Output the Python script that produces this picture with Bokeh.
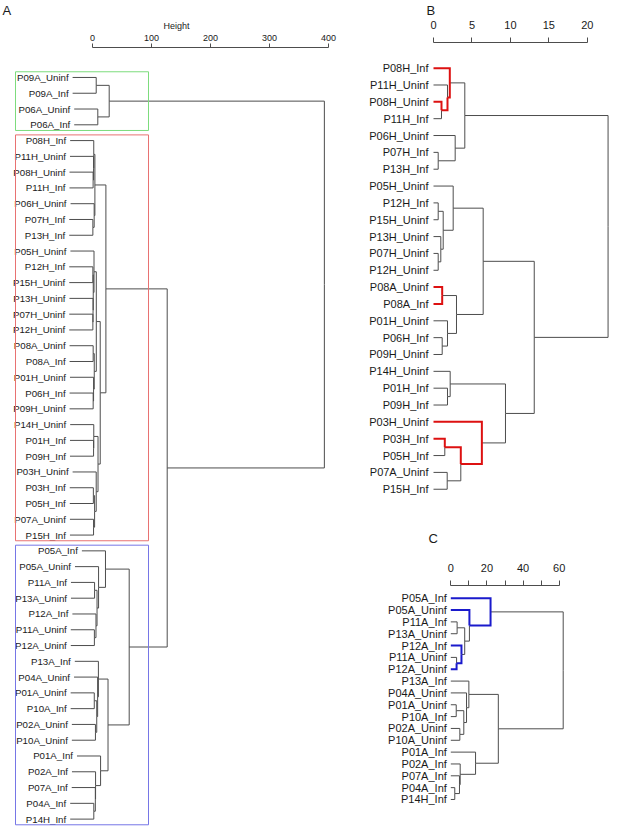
from bokeh.plotting import figure
from bokeh.models import Range1d, LinearAxis, FixedTicker, ColumnDataSource, Title
from bokeh.layouts import row, column
from bokeh.embed import file_html
from bokeh.resources import INLINE
from bokeh.core.properties import value

# ---------------- data ----------------
green_leaves = ["P09A_Uninf", "P09A_Inf", "P06A_Uninf", "P06A_Inf"]
green_merges = [
    ("g1", "P09A_Uninf", "P09A_Inf", 6.3),
    ("g2", "P06A_Uninf", "P06A_Inf", 9.0),
    ("g3", "g1", "g2", 28.3),
]

b_leaves = ["P08H_Inf", "P11H_Uninf", "P08H_Uninf", "P11H_Inf", "P06H_Uninf",
            "P07H_Inf", "P13H_Inf", "P05H_Uninf", "P12H_Inf", "P15H_Uninf",
            "P13H_Uninf", "P07H_Uninf", "P12H_Uninf", "P08A_Uninf", "P08A_Inf",
            "P01H_Uninf", "P06H_Inf", "P09H_Uninf", "P14H_Uninf", "P01H_Inf",
            "P09H_Inf", "P03H_Uninf", "P03H_Inf", "P05H_Inf", "P07A_Uninf", "P15H_Inf"]
b_merges = [
    ("b1", "P08H_Uninf", "P11H_Inf", 1.04),
    ("b2", "P11H_Uninf", "b1", 1.82),
    ("b3", "P08H_Inf", "b2", 2.12),
    ("b5", "P07H_Inf", "P13H_Inf", 0.61),
    ("b6", "P06H_Uninf", "b5", 2.82),
    ("b4", "b3", "b6", 4.07),
    ("b7", "P12H_Inf", "P15H_Uninf", 0.61),
    ("b8", "P07H_Uninf", "P12H_Uninf", 0.61),
    ("b9", "P13H_Uninf", "b8", 0.95),
    ("b10", "b7", "b9", 1.26),
    ("b11", "P05H_Uninf", "b10", 2.56),
    ("b12", "P08A_Uninf", "P08A_Inf", 1.13),
    ("b13", "P06H_Inf", "P09H_Uninf", 1.13),
    ("b14", "P01H_Uninf", "b13", 1.82),
    ("b15", "b12", "b14", 2.99),
    ("b16", "b11", "b15", 6.46),
    ("b18", "P01H_Inf", "P09H_Inf", 1.82),
    ("b19", "P14H_Uninf", "b18", 2.17),
    ("b20", "P03H_Inf", "P05H_Inf", 1.47),
    ("b21", "P07A_Uninf", "P15H_Inf", 1.78),
    ("b22", "b20", "b21", 3.55),
    ("b23", "P03H_Uninf", "b22", 6.29),
    ("b24", "b19", "b23", 9.36),
    ("b17", "b16", "b24", 13.1),
    ("b_root", "b4", "b17", 22.7),
]
b_highlight = ["P08H_Inf", "P08H_Uninf", "b1", "b2", "P08A_Uninf", "P08A_Inf",
               "P03H_Uninf", "P03H_Inf", "b20", "b22"]

c_leaves = ["P05A_Inf", "P05A_Uninf", "P11A_Inf", "P13A_Uninf", "P12A_Inf",
            "P11A_Uninf", "P12A_Uninf", "P13A_Inf", "P04A_Uninf", "P01A_Uninf",
            "P10A_Inf", "P02A_Uninf", "P10A_Uninf", "P01A_Inf", "P02A_Inf",
            "P07A_Inf", "P04A_Inf", "P14H_Inf"]
c_merges = [
    ("cW", "P11A_Uninf", "P12A_Uninf", 3.2),
    ("cZ", "P12A_Inf", "cW", 5.9),
    ("cV", "P11A_Inf", "P13A_Uninf", 3.5),
    ("cY", "cV", "cZ", 7.7),
    ("cX", "P05A_Uninf", "cY", 10.3),
    ("cT", "P05A_Inf", "cX", 22.0),
    ("cM1", "P01A_Uninf", "P10A_Inf", 3.0),
    ("cM2", "P02A_Uninf", "P10A_Uninf", 5.0),
    ("cM", "cM1", "cM2", 7.2),
    ("cQ1", "P04A_Uninf", "cM", 8.7),
    ("cQ2", "P13A_Inf", "cQ1", 10.0),
    ("cR1", "P04A_Inf", "P14H_Inf", 2.2),
    ("cR2", "P07A_Inf", "cR1", 4.8),
    ("cR3", "P02A_Inf", "cR2", 5.2),
    ("cR4", "P01A_Inf", "cR3", 13.7),
    ("cQ", "cQ2", "cR4", 26.3),
    ("c_root", "cT", "cQ", 62.2),
]
c_highlight = ["P05A_Inf", "P05A_Uninf", "cX", "P12A_Inf", "P12A_Uninf", "cW"]

a_top_merges = [
    ("a_rest", "b_root", "c_root", 126.6),
    ("a_root", "g3", "a_rest", 393.0),
]
a_hang = 40.0

a_ticks = [0, 100, 200, 300, 400]
b_ticks = [0, 5, 10, 15, 20]
c_ticks = [0, 20, 40, 60]
c_minor_ticks = [10, 30, 50]

# ---------------- style ----------------
FONT = "Liberation Sans"
LINE = "#4d4d4d"
TXT = "#1a1a1a"
RED = "#dd1111"
BLUE = "#1a1acc"
BOX_COLORS = ["#7ddc7d", "#e87272", "#7676e6"]


def tree_paths(leaves, merges, hang=None):
    y = {n: float(i) for i, n in enumerate(leaves)}
    h, parent = {}, {}
    for node, a, b, ht in merges:
        y[node] = (y[a] + y[b]) / 2.0
        h[node] = ht
        parent[a] = node
        parent[b] = node
    for leaf in leaves:
        h[leaf] = 0.0 if hang is None else h[parent[leaf]] - hang
    edges = []
    for child, par in parent.items():
        edges.append((child, [h[child], h[par], h[par]], [y[child], y[child], y[par]]))
    return y, h, edges


def draw_tree(p, leaves, merges, hang, highlight, hcolor, fsize, gap):
    y, h, edges = tree_paths(leaves, merges, hang)
    norm = [e for e in edges if e[0] not in highlight]
    hil = [e for e in edges if e[0] in highlight]
    p.multi_line(xs=[e[1] for e in norm], ys=[e[2] for e in norm],
                 line_color=LINE, line_width=1, line_join="miter")
    if hil:
        p.multi_line(xs=[e[1] for e in hil], ys=[e[2] for e in hil],
                     line_color=hcolor, line_width=2, line_join="miter")
    src = ColumnDataSource(dict(x=[h[l] for l in leaves], y=[y[l] for l in leaves], t=leaves))
    p.text(x="x", y="y", text="t", source=src, text_align="right", text_baseline="middle",
           x_offset=-gap, text_font=value(FONT), text_font_size=fsize, text_color=TXT)
    return y, h


def top_axis(p, ticks, fsize, minor=None, label=None, tick_len=5, standoff=6, lstandoff=6):
    ax = LinearAxis(ticker=FixedTicker(ticks=ticks, minor_ticks=minor or []),
                    bounds=(ticks[0], ticks[-1]))
    ax.axis_line_color = LINE
    ax.major_tick_line_color = LINE
    ax.major_tick_out = tick_len
    ax.major_tick_in = 0
    if minor:
        ax.minor_tick_line_color = LINE
        ax.minor_tick_out = tick_len
        ax.minor_tick_in = 0
    else:
        ax.minor_tick_line_color = None
    ax.major_label_text_font = FONT
    ax.major_label_text_font_size = fsize
    ax.major_label_text_color = TXT
    ax.major_label_standoff = standoff
    if label:
        ax.axis_label = label
        ax.axis_label_text_font = FONT
        ax.axis_label_text_font_size = fsize
        ax.axis_label_text_font_style = "normal"
        ax.axis_label_text_color = TXT
        ax.axis_label_standoff = lstandoff
    p.add_layout(ax, "above")


def make_fig(w, h, top, xr, yr):
    p = figure(width=w, height=h, x_range=xr, y_range=yr, output_backend="svg",
               toolbar_location=None, x_axis_location=None, y_axis_location=None,
               min_border_left=0, min_border_right=0, min_border_bottom=0,
               min_border_top=top)
    p.grid.visible = False
    p.outline_line_color = None
    return p


def panel_title(text, offset, standoff):
    return Title(text=text, align="left", offset=offset, text_font=FONT,
                 text_font_size="13px", text_font_style="normal", text_color=TXT,
                 standoff=standoff)


# page layout (px): panel A on the left, B top-right, C bottom-right
SPLIT_X, SPLIT_Y, PAGE_W, PAGE_H = 352, 505, 609, 827

# ---------------- panel A ----------------
A_ORIGIN, A_SCALE = 92.0, 0.59          # px of height 0, px per height unit
A_Y0, A_STEP = 76.0, 15.8               # px of first leaf, px per leaf
A_TOP = 46
ax_ = lambda px: (px - A_ORIGIN) / A_SCALE
ay_ = lambda py: (py - A_Y0) / A_STEP
pA = make_fig(SPLIT_X, PAGE_H, A_TOP,
              Range1d(ax_(0), ax_(SPLIT_X)), Range1d(ay_(PAGE_H), ay_(A_TOP)))
a_leaves = green_leaves + b_leaves + c_leaves
a_merges = green_merges + b_merges + c_merges + a_top_merges
yA, hA = draw_tree(pA, a_leaves, a_merges, a_hang, [], LINE, "9.7px", 4)
box_l, box_r = ax_(15), ax_(148)
groups = [green_leaves, b_leaves, c_leaves]
pA.quad(left=[box_l] * 3, right=[box_r] * 3,
        top=[yA[g[0]] - 0.36 for g in groups], bottom=[yA[g[-1]] + 0.36 for g in groups],
        fill_color=None, line_color=BOX_COLORS, line_width=1)
top_axis(pA, a_ticks, "9px", label="Height", tick_len=4, standoff=3, lstandoff=1)
pA.add_layout(panel_title("A", 2, 0), "above")

# ---------------- panel B ----------------
B_ORIGIN, B_SCALE = 433.0, 7.69
B_Y0, B_STEP = 66.7, 16.88
B_TOP = 41
bx_ = lambda px: (px - B_ORIGIN) / B_SCALE
by_ = lambda py: (py - B_Y0) / B_STEP
pB = make_fig(PAGE_W - SPLIT_X, SPLIT_Y, B_TOP,
              Range1d(bx_(SPLIT_X), bx_(PAGE_W)), Range1d(by_(SPLIT_Y), by_(B_TOP)))
draw_tree(pB, b_leaves, b_merges, None, b_highlight, RED, "11px", 5)
top_axis(pB, b_ticks, "11px", tick_len=5, standoff=9)
pB.add_layout(panel_title("B", 426 - SPLIT_X, 0), "above")

# ---------------- panel C ----------------
C_ORIGIN, C_SCALE = 450.3, 1.807
C_Y0, C_STEP = 597.7, 11.84
C_TOP = 585
cx_ = lambda px: (px - C_ORIGIN) / C_SCALE
cy_ = lambda py: (py - C_Y0) / C_STEP
pC = make_fig(PAGE_W - SPLIT_X, PAGE_H - SPLIT_Y, C_TOP - SPLIT_Y,
              Range1d(cx_(SPLIT_X), cx_(PAGE_W)), Range1d(cy_(PAGE_H), cy_(C_TOP)))
draw_tree(pC, c_leaves, c_merges, None, c_highlight, BLUE, "11px", 4)
top_axis(pC, c_ticks, "11px", minor=c_minor_ticks, tick_len=5, standoff=9)
pC.add_layout(panel_title("C", 428 - SPLIT_X, 30), "above")

layout = row(pA, column(pB, pC))
open("out.html", "w").write(file_html(layout, INLINE))
